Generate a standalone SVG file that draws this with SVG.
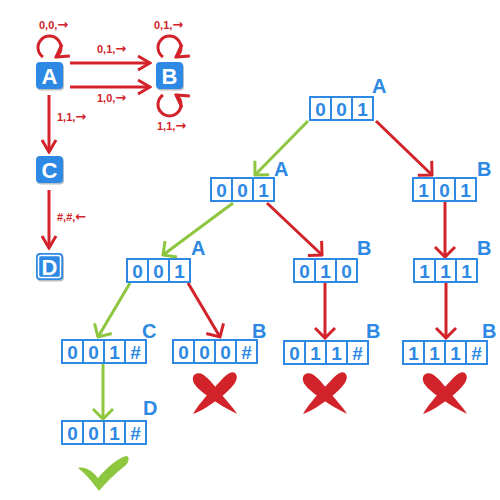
<svg xmlns="http://www.w3.org/2000/svg" width="500" height="500" viewBox="0 0 500 500">
<style>
.st rect.b{fill:#2d89e4}
.st rect.sh{fill:#8a949e;opacity:0.6}
.st text{font-family:"Liberation Sans",Arial,sans-serif;font-weight:bold;font-size:22px;fill:#fff;text-anchor:middle}
.lbl{font-family:"Liberation Sans",Arial,sans-serif;font-weight:bold;font-size:11px;fill:#d3232a}
.lbl tspan{font-family:"DejaVu Sans",sans-serif;font-size:13px}
.cell{fill:#fff;stroke:#2d89e4;stroke-width:2}
.dig{font-family:"Liberation Sans",Arial,sans-serif;font-weight:bold;font-size:19px;fill:#2d89e4;text-anchor:middle}
.tl{font-family:"Liberation Sans",Arial,sans-serif;font-weight:bold;font-size:20px;fill:#2d89e4}
.r{stroke:#d3232a;stroke-width:3;fill:none}
.g{stroke:#8dc63f;stroke-width:3;fill:none}
</style>
<defs>
<marker id="ar" viewBox="-15 -9 17 18" markerWidth="17" markerHeight="18" refX="0" refY="0" markerUnits="userSpaceOnUse" orient="auto">
<path d="M-12,-7 L0,0 L-12,7" fill="none" stroke="#d3232a" stroke-width="3"/>
</marker>
<marker id="art" viewBox="-14 -13 16 26" markerWidth="16" markerHeight="26" refX="0" refY="0" markerUnits="userSpaceOnUse" orient="auto">
<path d="M-10,-10 L0,0 L-10,10" fill="none" stroke="#d3232a" stroke-width="3"/>
</marker>
<marker id="agt" viewBox="-14 -13 16 26" markerWidth="16" markerHeight="26" refX="0" refY="0" markerUnits="userSpaceOnUse" orient="auto">
<path d="M-10,-10 L0,0 L-10,10" fill="none" stroke="#8dc63f" stroke-width="3"/>
</marker>
<path id="xm" fill="#d3232a" d="M-21,-18 C-14,-24 -6,-14 2,-4 C10,6 18,14 22,21 C12,16 2,10 -6,4 C-14,-2 -26,-10 -21,-18 Z M20,-20 C26,-14 16,-4 6,4 C-4,12 -14,18 -22,21 C-18,14 -10,4 -2,-4 C6,-12 14,-24 20,-20 Z"/>
</defs>

<!-- state diagram -->
<g id="stateA" class="st"><rect class="sh" x="37" y="63.5" width="27" height="27" rx="4"/><rect class="b" x="36" y="62" width="27" height="27" rx="4"/><text x="49.5" y="84">A</text></g>
<g id="stateB" class="st"><rect class="sh" x="157" y="63.5" width="27" height="27" rx="4"/><rect class="b" x="156" y="62" width="27" height="27" rx="4"/><text x="169.5" y="84">B</text></g>
<g id="stateC" class="st"><rect class="sh" x="37" y="157.5" width="27" height="27" rx="4"/><rect class="b" x="36" y="156" width="27" height="27" rx="4"/><text x="49.5" y="178">C</text></g>
<g id="stateD" class="st"><rect class="sh" x="37" y="254.5" width="27" height="27" rx="4"/><rect class="b" x="36" y="253" width="27" height="27" rx="4"/><rect x="38.5" y="255.5" width="22" height="22" rx="2" fill="none" stroke="#fff" stroke-width="1.5"/><text x="49.5" y="275">D</text></g>

<g id="state-connectors">
<path class="r" d="M43,57 A11.5,11.5 0 1 1 56,57" marker-end="url(#ar)"/>
<path class="r" d="M163,57 A11.5,11.5 0 1 1 176,57" marker-end="url(#ar)"/>
<path class="r" d="M163,95 A11.5,11.5 0 1 0 176,95" marker-end="url(#ar)"/>
<line class="r" x1="70" y1="63" x2="150" y2="63" marker-end="url(#ar)"/>
<line class="r" x1="70" y1="87" x2="150" y2="87" marker-end="url(#ar)"/>
<line class="r" x1="49" y1="95" x2="49" y2="152" marker-end="url(#ar)"/>
<line class="r" x1="49" y1="190" x2="49" y2="248" marker-end="url(#ar)"/>
<text class="lbl" x="39" y="29">0,0,<tspan>→</tspan></text>
<text class="lbl" x="154" y="29">0,1,<tspan>→</tspan></text>
<text class="lbl" x="97" y="53">0,1,<tspan>→</tspan></text>
<text class="lbl" x="97" y="102">1,0,<tspan>→</tspan></text>
<text class="lbl" x="157" y="130">1,1,<tspan>→</tspan></text>
<text class="lbl" x="57" y="121">1,1,<tspan>→</tspan></text>
<text class="lbl" x="57" y="221">#,#,<tspan>←</tspan></text>
</g>

<!-- tree connectors -->
<g id="tree-connectors">
<line class="g" x1="308" y1="121" x2="255" y2="175" marker-end="url(#agt)"/>
<line class="r" x1="376" y1="121" x2="432" y2="175" marker-end="url(#art)"/>
<line class="g" x1="233" y1="203" x2="163" y2="255" marker-end="url(#agt)"/>
<line class="r" x1="267" y1="203" x2="322" y2="255" marker-end="url(#art)"/>
<line class="r" x1="445" y1="202" x2="445" y2="257" marker-end="url(#art)"/>
<line class="g" x1="130" y1="283" x2="98" y2="337" marker-end="url(#agt)"/>
<line class="r" x1="188" y1="283" x2="220" y2="337" marker-end="url(#art)"/>
<line class="r" x1="325" y1="283" x2="325" y2="338" marker-end="url(#art)"/>
<line class="r" x1="446" y1="283" x2="446" y2="338" marker-end="url(#art)"/>
<line class="g" x1="103" y1="364" x2="103" y2="419" marker-end="url(#agt)"/>
</g>

<!-- tree nodes -->
<g id="n1"><rect class="cell" x="310" y="97" width="21" height="23"/><rect class="cell" x="331" y="97" width="21" height="23"/><rect class="cell" x="352" y="97" width="21" height="23"/>
<text class="dig" x="320.5" y="116">0</text><text class="dig" x="341.5" y="116">0</text><text class="dig" x="362.5" y="116">1</text><text class="tl" x="372" y="93">A</text></g>
<g id="n2"><rect class="cell" x="211" y="178" width="21" height="23"/><rect class="cell" x="232" y="178" width="21" height="23"/><rect class="cell" x="253" y="178" width="21" height="23"/>
<text class="dig" x="221.5" y="197">0</text><text class="dig" x="242.5" y="197">0</text><text class="dig" x="263.5" y="197">1</text><text class="tl" x="274" y="176">A</text></g>
<g id="n3"><rect class="cell" x="413" y="178" width="21" height="23"/><rect class="cell" x="434" y="178" width="21" height="23"/><rect class="cell" x="455" y="178" width="21" height="23"/>
<text class="dig" x="423.5" y="197">1</text><text class="dig" x="444.5" y="197">0</text><text class="dig" x="465.5" y="197">1</text><text class="tl" x="477" y="176">B</text></g>
<g id="n4"><rect class="cell" x="127" y="259" width="21" height="23"/><rect class="cell" x="148" y="259" width="21" height="23"/><rect class="cell" x="169" y="259" width="21" height="23"/>
<text class="dig" x="137.5" y="278">0</text><text class="dig" x="158.5" y="278">0</text><text class="dig" x="179.5" y="278">1</text><text class="tl" x="191" y="255">A</text></g>
<g id="n5"><rect class="cell" x="294" y="259" width="21" height="23"/><rect class="cell" x="315" y="259" width="21" height="23"/><rect class="cell" x="336" y="259" width="21" height="23"/>
<text class="dig" x="304.5" y="278">0</text><text class="dig" x="325.5" y="278">1</text><text class="dig" x="346.5" y="278">0</text><text class="tl" x="357" y="255">B</text></g>
<g id="n6"><rect class="cell" x="414" y="259" width="21" height="23"/><rect class="cell" x="435" y="259" width="21" height="23"/><rect class="cell" x="456" y="259" width="21" height="23"/>
<text class="dig" x="424.5" y="278">1</text><text class="dig" x="445.5" y="278">1</text><text class="dig" x="466.5" y="278">1</text><text class="tl" x="477" y="255">B</text></g>
<g id="n7"><rect class="cell" x="62" y="340" width="21" height="23"/><rect class="cell" x="83" y="340" width="21" height="23"/><rect class="cell" x="104" y="340" width="21" height="23"/><rect class="cell" x="125" y="340" width="21" height="23"/>
<text class="dig" x="72.5" y="359">0</text><text class="dig" x="93.5" y="359">0</text><text class="dig" x="114.5" y="359">1</text><text class="dig" x="135.5" y="359">#</text><text class="tl" x="142" y="338">C</text></g>
<g id="n8"><rect class="cell" x="173" y="340" width="21" height="23"/><rect class="cell" x="194" y="340" width="21" height="23"/><rect class="cell" x="215" y="340" width="21" height="23"/><rect class="cell" x="236" y="340" width="21" height="23"/>
<text class="dig" x="183.5" y="359">0</text><text class="dig" x="204.5" y="359">0</text><text class="dig" x="225.5" y="359">0</text><text class="dig" x="246.5" y="359">#</text><text class="tl" x="252" y="338">B</text></g>
<g id="n9"><rect class="cell" x="284" y="341" width="21" height="23"/><rect class="cell" x="305" y="341" width="21" height="23"/><rect class="cell" x="326" y="341" width="21" height="23"/><rect class="cell" x="347" y="341" width="21" height="23"/>
<text class="dig" x="294.5" y="360">0</text><text class="dig" x="315.5" y="360">1</text><text class="dig" x="336.5" y="360">1</text><text class="dig" x="357.5" y="360">#</text><text class="tl" x="366" y="338">B</text></g>
<g id="n10"><rect class="cell" x="403" y="341" width="21" height="23"/><rect class="cell" x="424" y="341" width="21" height="23"/><rect class="cell" x="445" y="341" width="21" height="23"/><rect class="cell" x="466" y="341" width="21" height="23"/>
<text class="dig" x="413.5" y="360">1</text><text class="dig" x="434.5" y="360">1</text><text class="dig" x="455.5" y="360">1</text><text class="dig" x="476.5" y="360">#</text><text class="tl" x="482" y="338">B</text></g>
<g id="n11"><rect class="cell" x="62" y="421" width="21" height="23"/><rect class="cell" x="83" y="421" width="21" height="23"/><rect class="cell" x="104" y="421" width="21" height="23"/><rect class="cell" x="125" y="421" width="21" height="23"/>
<text class="dig" x="72.5" y="440">0</text><text class="dig" x="93.5" y="440">0</text><text class="dig" x="114.5" y="440">1</text><text class="dig" x="135.5" y="440">#</text><text class="tl" x="143" y="415">D</text></g>

<!-- marks -->
<use href="#xm" x="215" y="393"/>
<use href="#xm" x="325" y="393"/>
<use href="#xm" x="445" y="393"/>
<path fill="#8dc63f" d="M78,468 C86,466 93,472 98,478 C106,468 118,458 126,456 C130,456 129,462 126,465 C115,474 106,482 99,491 C93,483 86,474 78,468 Z"/>
</svg>
